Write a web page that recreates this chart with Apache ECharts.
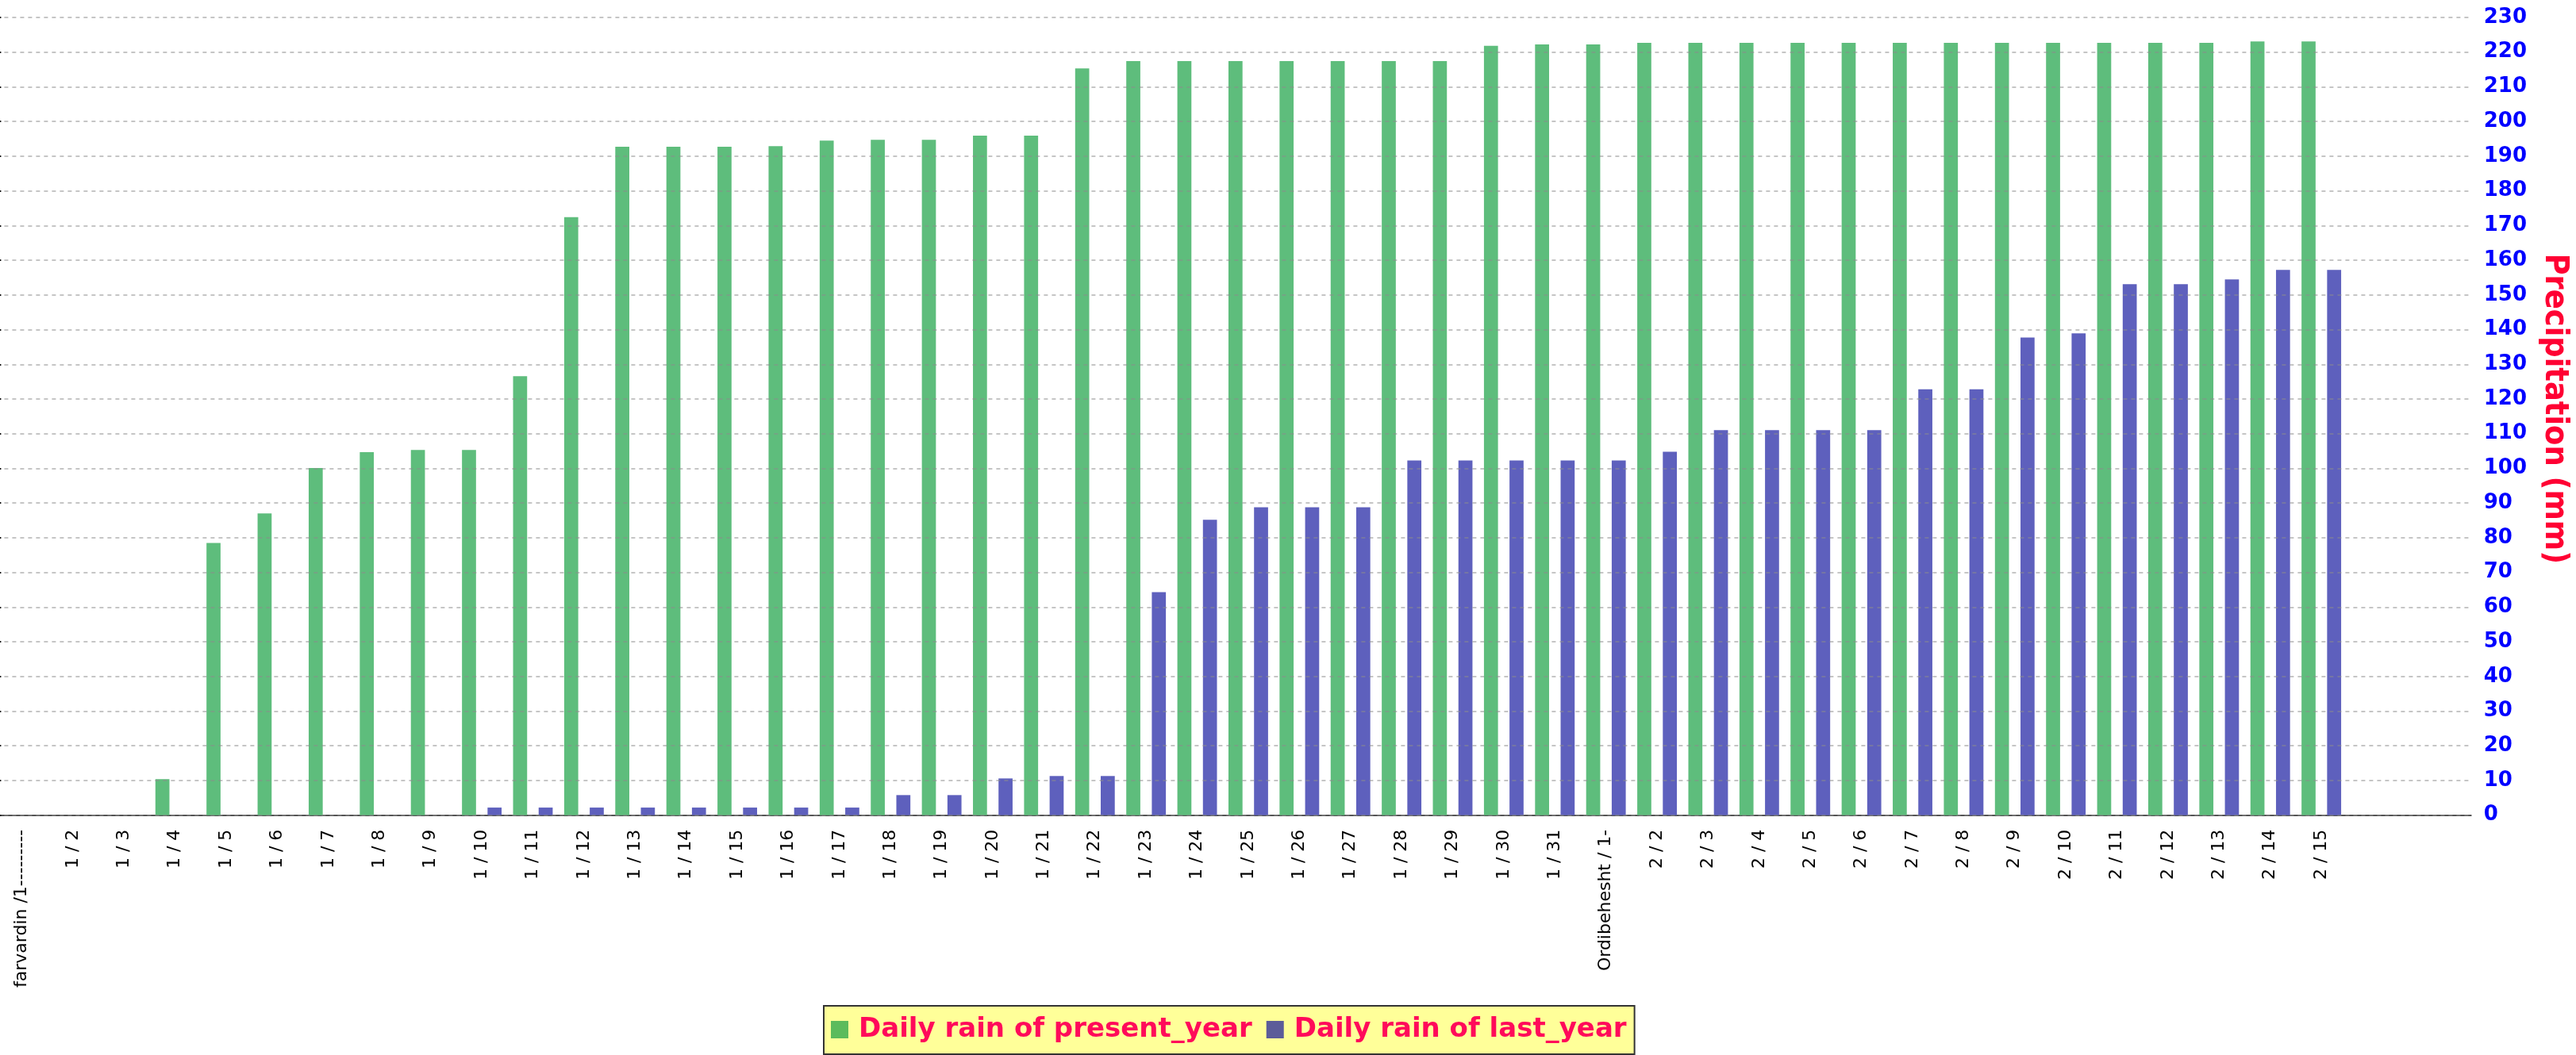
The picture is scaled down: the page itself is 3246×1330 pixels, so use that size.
<!DOCTYPE html>
<html>
<head>
<meta charset="utf-8">
<script src="https://cdn.jsdelivr.net/npm/echarts@6/dist/echarts.min.js"></script>
<style>
html, body { margin: 0; padding: 0; background: #fff; }
#container { width: 3246px; height: 1330px; }
</style>
</head>
<body>
<div id="container"></div>
<script>
var days = [
    'farvardin /1---------', '1 / 2', '1 / 3', '1 / 4', '1 / 5', '1 / 6', '1 / 7', '1 / 8', '1 / 9', '1 / 10',
    '1 / 11', '1 / 12', '1 / 13', '1 / 14', '1 / 15', '1 / 16', '1 / 17', '1 / 18', '1 / 19', '1 / 20',
    '1 / 21', '1 / 22', '1 / 23', '1 / 24', '1 / 25', '1 / 26', '1 / 27', '1 / 28', '1 / 29', '1 / 30',
    '1 / 31', 'Ordibehesht / 1-', '2 / 2', '2 / 3', '2 / 4', '2 / 5', '2 / 6', '2 / 7', '2 / 8', '2 / 9',
    '2 / 10', '2 / 11', '2 / 12', '2 / 13', '2 / 14', '2 / 15'
];
var presentYear = [
    0, 0, 0, 10.4, 78.5, 87.0, 100.1, 104.7, 105.3, 105.3,
    126.6, 172.4, 192.7, 192.7, 192.7, 192.9, 194.5, 194.7, 194.7, 195.9,
    195.9, 215.3, 217.4, 217.4, 217.4, 217.4, 217.4, 217.4, 217.4, 221.8,
    222.2, 222.2, 222.7, 222.7, 222.7, 222.7, 222.7, 222.7, 222.7, 222.7,
    222.7, 222.7, 222.7, 222.7, 223.1, 223.1
];
var lastYear = [
    0, 0, 0, 0, 0, 0, 0, 0, 0, 2.2,
    2.2, 2.2, 2.2, 2.2, 2.2, 2.2, 2.2, 5.8, 5.8, 10.6,
    11.3, 11.3, 64.3, 85.2, 88.8, 88.8, 88.8, 102.3, 102.3, 102.3,
    102.3, 102.3, 104.8, 111.0, 111.0, 111.0, 111.0, 122.8, 122.8, 137.7,
    138.9, 153.1, 153.1, 154.5, 157.2, 157.2
];
var yMin = 0;
var yMax = 230;
var yStep = 10;
// the right axis line runs a little above the last tick
var yAxisTop = 234.35;

var dom = document.getElementById("container");
var myChart = echarts.init(dom);
var option = null;
option = {
    backgroundColor: '#ffffff',
    animation: false,
    legend: {
        left: 1038,
        top: 1268,
        orient: 'horizontal',
        selectedMode: false,
        backgroundColor: '#ffff99',
        borderColor: '#333',
        borderWidth: 2,
        padding: [10, 10, 11, 9],
        itemWidth: 22,
        itemHeight: 22,
        itemGap: 18,
        textStyle: {
            color: '#ff0a5a',
            fontSize: 34,
            fontWeight: 'bold',
            fontFamily: 'DejaVu Sans',
            lineHeight: 40,
            padding: [0, 0, 0, 8]
        },
        data: [
            { name: 'Daily rain of present_year', icon: 'rect', itemStyle: { color: '#5cbb5c' } },
            { name: 'Daily rain of last_year', icon: 'rect', itemStyle: { color: '#5c5c99' } }
        ]
    },
    grid: [
        // bars
        { left: -4.6, top: 22, width: 2961.9, height: 1005.7, outerBoundsMode: 'none', containLabel: false },
        // grid lines + value axis, reaching the right axis
        { left: -4.6, top: 3, width: 3118.3, height: 1024.7, outerBoundsMode: 'none', containLabel: false }
    ],
    xAxis: [
        {
            type: 'category',
            gridIndex: 0,
            data: days,
            axisLine: { show: false },
            axisTick: { alignWithLabel: true, length: 6, lineStyle: { color: '#333', width: 1.5 } },
            axisLabel: {
                interval: 0,
                rotate: 90,
                margin: 18,
                fontSize: 22,
                color: '#000',
                fontFamily: 'DejaVu Sans'
            }
        },
        {
            type: 'value',
            gridIndex: 1,
            min: 0,
            max: 1,
            axisLine: { show: true, lineStyle: { color: '#555', width: 2 } },
            axisTick: { show: false },
            axisLabel: { show: false },
            splitLine: { show: false }
        }
    ],
    yAxis: [
        {
            type: 'value',
            gridIndex: 0,
            min: yMin,
            max: yMax,
            interval: yStep,
            show: false,
            splitLine: { show: false }
        },
        {
            type: 'value',
            gridIndex: 1,
            position: 'right',
            min: yMin,
            max: yAxisTop,
            interval: yStep,
            z: 5,
            name: 'Precipitation (mm)',
            nameLocation: 'middle',
            nameRotate: -90,
            nameGap: 84,
            nameTextStyle: {
                color: '#ff0033',
                fontSize: 41,
                fontWeight: 'bold',
                fontFamily: "'DejaVu Sans Condensed', 'DejaVu Sans'"
            },
            axisLine: { show: true, lineStyle: { color: '#111', width: 2 } },
            axisTick: { show: true, inside: false, length: 6, lineStyle: { color: '#111', width: 2 } },
            axisLabel: {
                margin: 16,
                color: '#0000ff',
                fontSize: 26,
                fontWeight: 'bold',
                fontFamily: 'DejaVu Sans',
                align: 'left',
                showMaxLabel: false
            },
            splitLine: {
                show: true,
                showMaxLine: false,
                lineStyle: { color: 'rgba(140,140,140,0.5)', width: 2, type: [5, 5] }
            }
        }
    ],
    series: [
        {
            name: 'Daily rain of present_year',
            type: 'bar',
            xAxisIndex: 0,
            yAxisIndex: 0,
            barWidth: 17.7,
            barGap: '82%',
            itemStyle: { color: '#5ebd7c' },
            data: presentYear
        },
        {
            name: 'Daily rain of last_year',
            type: 'bar',
            xAxisIndex: 0,
            yAxisIndex: 0,
            barWidth: 17.7,
            barGap: '82%',
            itemStyle: { color: '#5e60bd' },
            data: lastYear
        }
    ]
};
if (option && typeof option === "object") {
    myChart.setOption(option, true);
}
</script>
</body>
</html>
